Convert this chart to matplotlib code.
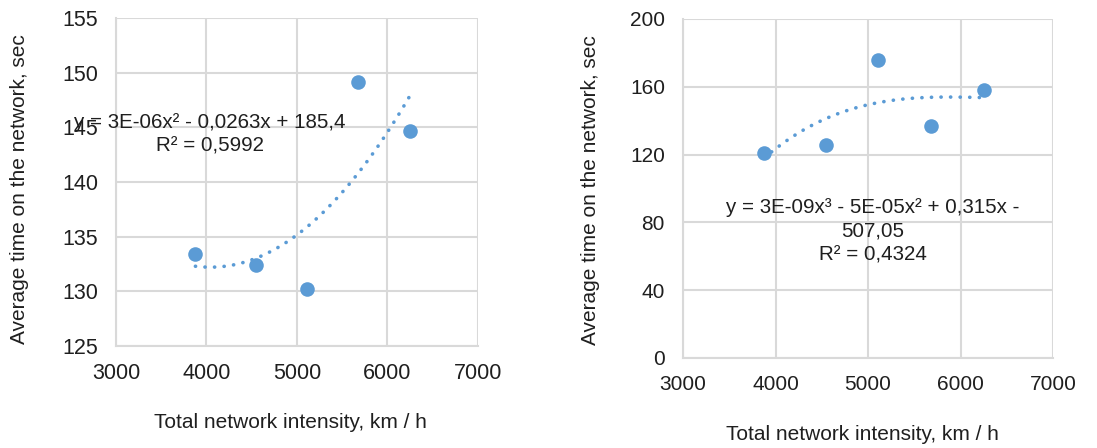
import numpy as np
import matplotlib
matplotlib.use("Agg")
import matplotlib.pyplot as plt

plt.rcParams["font.family"] = ["Liberation Sans", "DejaVu Sans"]

# intensity (km/h), same five observations in both panels
intensity = [3878, 4544, 5110, 5677, 6250]
time_left = [133.4, 132.45, 130.25, 149.1, 144.7]
time_right = [121.2, 125.7, 175.8, 136.7, 157.9]

eq_left = "y = 3E-06x² - 0,0263x + 185,4\nR² = 0,5992"
eq_right = "y = 3E-09x³ - 5E-05x² + 0,315x -\n507,05\nR² = 0,4324"

x_label = "Total network intensity, km / h"
y_label = "Average time on the network, sec"

BLUE = "#5B9BD5"
GRID = "#d9d9d9"
TEXT = "#1f1f1f"


def draw_panel(ax, x, y, deg, ylim, yticks, eq, eq_pos, tick_fs):
    x = np.asarray(x, float)
    y = np.asarray(y, float)
    ax.set_axisbelow(True)
    ax.grid(True, color=GRID, lw=1.5)
    for side in ("top", "right"):
        ax.spines[side].set_visible(False)
    for side in ("left", "bottom"):
        ax.spines[side].set_color(GRID)
        ax.spines[side].set_linewidth(1.5)
    coef = np.polyfit(x, y, deg)
    xs = np.linspace(x.min(), x.max(), 200)
    ax.plot(xs, np.polyval(coef, xs), color=BLUE, lw=2.6, ls=(0, (0.05, 2.6)),
            dash_capstyle="round", zorder=2)
    ax.scatter(x, y, s=110, color=BLUE, zorder=3, linewidths=0)
    ax.set_xlim(3000, 7000)
    ax.set_xticks([3000, 4000, 5000, 6000, 7000])
    ax.set_ylim(*ylim)
    ax.set_yticks(yticks)
    ax.tick_params(length=0, labelsize=tick_fs, colors=TEXT)
    ax.tick_params(axis="x", pad=12)
    ax.tick_params(axis="y", pad=13)
    ax.text(eq_pos[0], eq_pos[1], eq, ha="center", va="center",
            fontsize=14.8, color=TEXT, linespacing=1.3, zorder=4)


fig = plt.figure(figsize=(10.97, 4.48), dpi=100)
ax1 = fig.add_axes([0.1057, 0.2277, 0.33, 0.7323])
ax2 = fig.add_axes([0.6226, 0.2009, 0.3374, 0.7567])

draw_panel(ax1, intensity, time_left, 2, (125, 155), range(125, 156, 5),
           eq_left, (4040, 144.4), 15.5)
draw_panel(ax2, intensity, time_right, 3, (0, 200), range(0, 201, 40),
           eq_right, (5054, 74.7), 15)

fig.text(20 / 1097, 1 - 189 / 448, y_label, rotation=90, ha="center", va="center",
         fontsize=15, color=TEXT)
fig.text(290 / 1097, 1 - 422 / 448, x_label, ha="center", va="center",
         fontsize=15, color=TEXT)
fig.text(590 / 1097, 1 - 190 / 448, y_label, rotation=90, ha="center", va="center",
         fontsize=15, color=TEXT)
fig.text(862 / 1097, 1 - 434 / 448, x_label, ha="center", va="center",
         fontsize=15, color=TEXT)

fig.savefig("out.png", dpi=100)
